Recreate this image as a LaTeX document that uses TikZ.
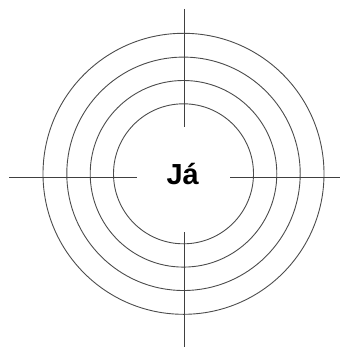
\documentclass[tikz,border=0pt]{standalone}
\usepackage{fontspec}
\setmainfont{Liberation Sans}
\begin{document}
\begin{tikzpicture}[x=1pt,y=-1pt,
  ring/.style={draw=black!70,line width=0.9pt},
  axis/.style={draw=black!75,line width=0.9pt},
  lbl/.style={font=\fontsize{29}{30}\selectfont\bfseries,inner sep=0pt,anchor=base}]
\useasboundingbox (0,0) rectangle (340,347);
\coordinate (c) at (183.5,173.8);
\foreach \r in {70,93.3,116.7,140.5} \draw[ring] (c) circle[radius=\r];
\node[lbl] (me) at (182.7,184.3) {Já};
\coordinate (t1) at (184,9); \coordinate (t2) at (184,127);
\coordinate (b1) at (184,232); \coordinate (b2) at (184,347);
\coordinate (l1) at (9,177.5); \coordinate (l2) at (137,177.5);
\coordinate (r1) at (230,177.5); \coordinate (r2) at (340,177.5);
\draw[axis] (t1) -- (t2);
\draw[axis] (b1) -- (b2);
\draw[axis] (l1) -- (l2);
\draw[axis] (r1) -- (r2);
\end{tikzpicture}
\end{document}
